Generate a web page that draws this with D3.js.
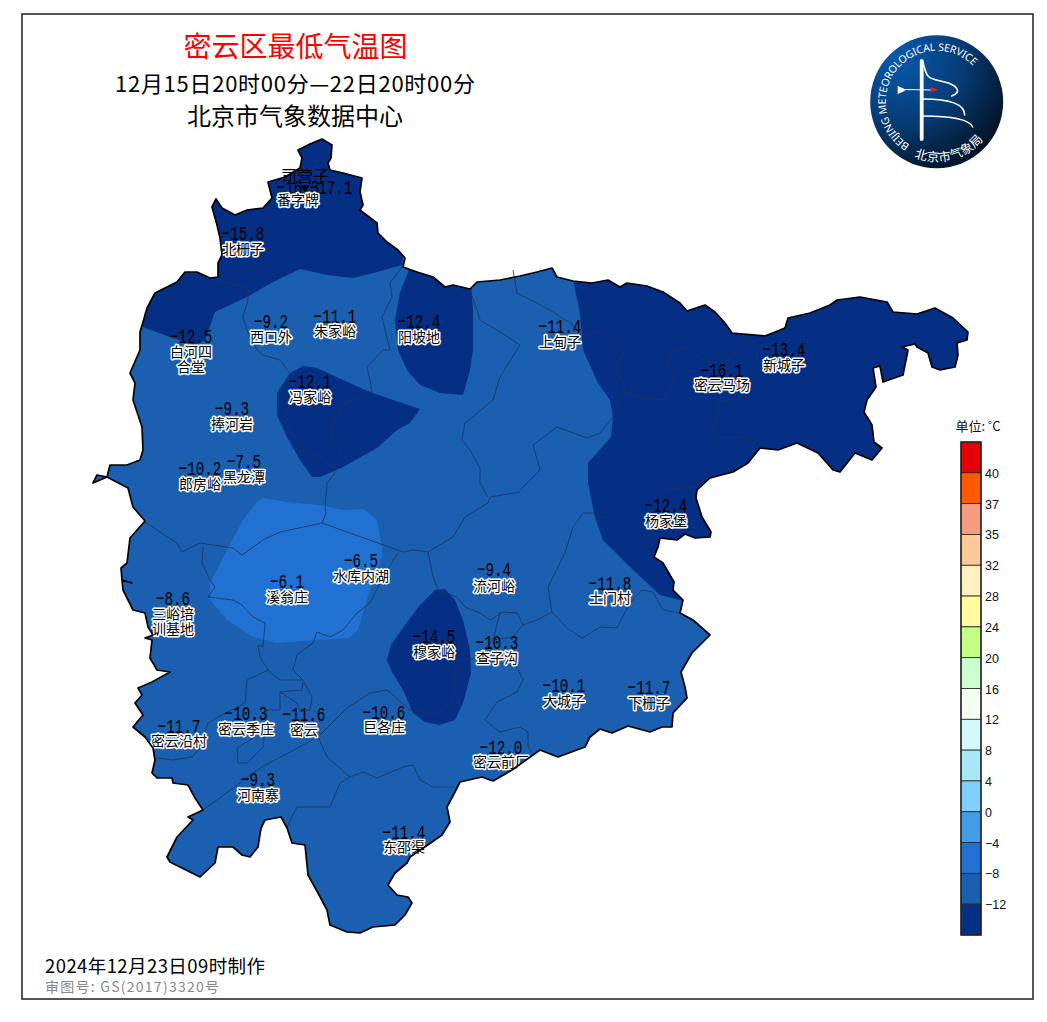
<!DOCTYPE html>
<html>
<head>
<meta charset="utf-8">
<script src="https://cdn.jsdelivr.net/npm/d3@7"></script>
<style>
html, body { margin: 0; padding: 0; background: #fff; }
svg { display: block; }
text { font-family: "Noto Sans CJK SC", sans-serif; }
</style>
</head>
<body>
<svg id="chart" width="1047" height="1022"></svg>
<script>
// map geometry, in map units of the sheet
const cityOutline = [[298,150],[310,144],[322,139],[332,145],[331,158],[328,163],[330,170],[343,173],[362,178],[360,192],[363,205],[360,210],[377,223],[378,233],[387,242],[398,250],[405,258],[403,267],[417,272],[433,277],[445,287],[453,285],[470,289],[477,282],[500,280],[520,276],[537,272],[552,268],[557,277],[573,281],[592,283],[608,280],[620,287],[627,283],[647,286],[663,292],[680,303],[687,311],[705,305],[715,312],[725,323],[732,333],[765,336],[785,328],[788,318],[810,313],[830,305],[837,300],[860,297],[887,302],[893,312],[917,314],[935,308],[953,318],[968,332],[967,340],[957,343],[958,355],[955,367],[940,370],[932,367],[928,353],[917,347],[915,344],[902,347],[908,350],[903,375],[883,382],[880,366],[873,368],[876,387],[867,400],[864,412],[872,425],[874,442],[882,448],[872,460],[855,453],[840,472],[833,470],[818,453],[797,443],[778,450],[760,448],[748,463],[733,472],[710,478],[697,490],[696,498],[702,517],[711,532],[710,537],[695,538],[685,534],[677,540],[660,538],[658,547],[654,557],[663,563],[674,582],[673,590],[683,600],[680,613],[693,620],[710,635],[692,653],[681,672],[685,687],[687,698],[673,713],[672,727],[662,727],[650,732],[628,726],[612,733],[600,729],[590,737],[585,747],[558,757],[540,750],[512,770],[493,781],[482,777],[460,782],[455,792],[447,807],[450,822],[442,835],[432,842],[410,857],[407,863],[395,873],[388,885],[397,895],[408,897],[412,903],[405,915],[395,925],[373,927],[360,933],[347,932],[330,925],[327,910],[318,893],[308,875],[305,845],[292,843],[287,828],[281,817],[265,820],[261,828],[258,847],[250,857],[242,855],[233,847],[218,847],[215,863],[200,877],[192,873],[170,862],[167,857],[177,837],[193,820],[188,817],[203,810],[195,798],[188,785],[173,783],[172,778],[157,778],[152,773],[155,760],[153,748],[145,737],[133,727],[143,715],[135,703],[142,695],[138,688],[152,682],[170,672],[157,670],[150,658],[152,640],[145,638],[153,635],[148,627],[145,613],[133,610],[123,590],[122,580],[132,583],[122,580],[121,568],[127,563],[130,538],[145,521],[133,507],[128,488],[107,477],[93,483],[97,475],[107,477],[110,465],[127,465],[140,460],[143,450],[142,427],[133,400],[135,383],[130,373],[140,350],[140,332],[143,322],[147,308],[155,293],[177,282],[185,272],[197,272],[210,278],[218,277],[218,263],[222,255],[220,238],[217,225],[212,207],[216,199],[222,208],[235,215],[247,210],[263,208],[272,198],[268,182],[285,177],[300,168],[302,158]];

const townLines = [
  [[145,522],[157,530],[177,543],[182,552],[200,543],[233,548],[242,555],[263,540],[280,532],[322,523],[403,552],[413,550],[428,552],[453,537],[465,517],[488,503],[490,497],[520,492]],
  [[322,523],[326,513],[325,507],[327,483],[335,473],[333,463],[342,453],[333,437],[330,428],[345,403],[372,392],[370,380],[367,367],[383,350],[390,350],[382,317],[392,297],[390,283],[402,267]],
  [[287,403],[285,420],[297,443],[307,453],[320,457],[333,467]],
  [[488,497],[480,483],[480,468],[470,450],[462,440],[465,423],[493,400],[500,377],[520,345],[500,332],[480,320],[477,310],[470,290]],
  [[428,552],[433,577],[438,590],[457,597],[465,607],[480,613],[490,620],[503,612],[517,613],[523,625],[537,620],[552,612],[567,628],[582,638],[600,627],[617,628],[630,603],[642,590],[653,592],[663,610],[680,613]],
  [[552,612],[548,587],[565,553],[573,527],[583,513],[593,513],[605,518],[623,507],[637,517],[663,490],[695,487]],
  [[513,270],[517,293],[537,303],[553,312],[570,323],[583,335],[598,332],[625,350],[615,368],[623,383],[625,393],[617,403],[613,417],[600,433],[587,438],[557,427],[533,445],[540,470],[520,490]],
  [[625,393],[643,398],[665,400],[675,375],[668,367],[670,352],[685,347],[703,360],[727,363],[747,335]],
  [[727,363],[722,385],[742,398],[718,402],[717,420],[713,427],[718,438],[747,437],[758,448]],
  [[217,280],[248,288],[248,300],[243,317],[247,330],[257,350],[263,355],[280,360],[293,377],[287,403]],
  [[210,580],[202,563],[203,547]],
  [[210,580],[215,587],[208,597],[233,600],[242,605],[253,617],[265,623],[263,647],[258,645],[260,657],[268,670],[280,680],[303,680]],
  [[398,553],[383,577],[370,603],[357,613],[343,630],[330,637],[317,632],[313,643],[297,655],[293,670],[303,680],[312,697],[310,710],[300,710],[297,703],[280,692],[302,690],[303,682]],
  [[280,692],[280,710],[267,710],[263,747],[247,763],[238,763],[237,748],[253,738]],
  [[268,670],[247,680],[245,703],[218,717],[208,723],[200,748],[192,757],[173,760],[157,758]],
  [[203,810],[262,767],[318,737],[347,708],[370,693],[387,690],[410,710],[437,715],[453,700],[455,677],[455,663],[458,660],[477,658],[517,667],[523,680],[517,692],[497,702],[485,720],[500,732],[520,727],[528,732],[528,747],[532,753]],
  [[318,737],[327,757],[350,777],[340,783],[330,807],[297,807],[287,827]],
  [[350,777],[363,772],[377,778],[403,767],[413,765],[420,780],[433,787],[455,787]],
  [[477,658],[493,640],[500,612]],
  [[493,640],[513,637],[523,625]]
];

// temperature bands
const coldNorth = [[100,320],[140,326],[170,337],[195,345],[205,340],[215,312],[247,297],[273,282],[300,269],[327,275],[353,278],[377,272],[402,265],[420,100],[100,100]];
const coldYangpodi = [[412,262],[400,293],[395,320],[398,350],[407,370],[420,385],[440,393],[463,395],[470,370],[473,350],[473,310],[470,270]];
const coldFengjiayu = [[303,366],[290,373],[277,393],[277,415],[287,437],[300,460],[312,477],[320,477],[343,467],[377,448],[397,430],[410,423],[420,409],[393,400],[370,392],[343,380],[317,368]];
const coldMujiayu = [[435,590],[445,589],[455,600],[463,620],[470,650],[471,673],[463,703],[455,720],[440,725],[425,722],[413,713],[403,690],[392,672],[387,660],[391,645],[405,625],[420,605]];
const coldEast = [[570,260],[573,280],[580,313],[583,350],[598,383],[610,400],[613,417],[611,437],[588,463],[588,483],[595,517],[603,540],[630,567],[660,595],[684,601],[1000,601],[1000,260]];
const mildXiweng = [[257,502],[263,498],[287,502],[320,505],[343,510],[363,509],[377,520],[382,547],[382,557],[370,590],[358,630],[350,638],[317,640],[277,643],[253,637],[227,620],[210,600],[210,583],[227,550],[243,520]];

const stationNames = ["番字牌","司营子","北栅子","白河四\n合堂","西口外","朱家峪","阳坡地","上甸子","密云马场","新城子","冯家峪","捧河岩","郎房峪","黑龙潭","杨家堡","水库内湖","溪翁庄","流河峪","土门村","三峪培\n训基地","穆家峪","查子沟","大城子","下栅子","密云季庄","密云","巨各庄","密云沿村","密云前厂","河南寨","东邵渠"];
const stationValues = [-16.3,-17.1,-15.8,-12.5,-9.2,-11.1,-12.4,-11.4,-16.1,-13.4,-12.1,-9.3,-10.2,-7.5,-12.4,-6.5,-6.1,-9.4,-11.8,-8.6,-14.5,-10.3,-10.1,-11.7,-10.3,-11.6,-10.6,-11.7,-12.0,-9.3,-11.4];
const stationX = [298,305,243,191,271,335,419,560,722,784,310,232,200,244,666,361,287,494,610,173,434,497,564,649,246,304,384,179,501,258,404];
const stationY = [200,177,249,352,337,331,337,342,385,365,397,424,484,477,521,576,597,586,598,614,652,658,701,703,729,730,727,741,762,795,847];
const valueX = [298,331,243,191,271,335,419,560,722,784,310,232,200,244,666,361,287,494,610,173,434,497,564,649,246,304,384,179,501,258,404];
const valueY = [187,187,233,336,321,316,321,326,370,349,381,408,468,461,505,560,581,569,583,598,636,642,685,687,713,714,712,726,747,779,832];

const legendLabels = ["40","37","35","32","28","24","20","16","12","8","4","0","−4","−8","−12"];
const legendColors = ["#e60008","#ff5a00","#f59c80","#ffc997","#fff0c0","#fffb9c","#c2ff84","#ccffd0","#f3fff0","#d4f9fb","#a9e6f8","#80d0ff","#429ce6","#2171d2","#1a5fb0","#052f85"];

const titleMain = "密云区最低气温图";
const titleTime = "12月15日20时00分—22日20时00分";
const titleSource = "北京市气象数据中心";
const madeOn = "2024年12月23日09时制作";
const mapReview = "审图号: GS(2017)3320号";

const svg = d3.select("#chart");
const mapPath = d3.geoPath(d3.geoIdentity());
const poly = ring => ({ type: "Polygon", coordinates: [[...ring, ring[0]]] });

svg.append("rect").attr("x", 22).attr("y", 14).attr("width", 1011).attr("height", 985)
  .attr("fill", "#fff").attr("stroke", "#2b2b2b").attr("stroke-width", 1.6);

// temperature fill, clipped to the district
svg.append("clipPath").attr("id", "district").append("path").attr("d", mapPath(poly(cityOutline)));
const fills = svg.append("g").attr("clip-path", "url(#district)");
fills.append("path").attr("d", mapPath(poly(cityOutline))).attr("fill", legendColors[14]);
fills.append("path").attr("d", mapPath(poly(mildXiweng))).attr("fill", legendColors[13]);
[coldNorth, coldYangpodi, coldFengjiayu, coldMujiayu, coldEast].forEach(r => {
  fills.append("path").attr("d", mapPath(poly(r))).attr("fill", legendColors[15]);
});

svg.append("g").selectAll("path").data(townLines).join("path")
  .attr("d", l => mapPath({ type: "LineString", coordinates: l }))
  .attr("fill", "none").attr("stroke", "#1b3560").attr("stroke-width", 0.8);

// values and station names
const idx = d3.range(stationNames.length);
svg.append("g").selectAll("text").data(idx).join("text")
  .attr("transform", i => `translate(${valueX[i]},${valueY[i] + 7}) scale(0.68,1)`)
  .attr("text-anchor", "middle")
  .style("font-family", "'Liberation Mono', monospace")
  .style("font-size", "21px")
  .attr("fill", "#000")
  .text(i => d3.format(".1f")(stationValues[i]).replace("-", "−"));

const names = svg.append("g").selectAll("g").data(idx).join("g");
names.each(function (i) {
  const g = d3.select(this);
  stationNames[i].split("\n").forEach((line, k) => {
    const plain = stationNames[i] === "司营子";
    g.append("text")
      .attr("x", stationX[i]).attr("y", stationY[i] + k * 15 + 5)
      .attr("text-anchor", "middle")
      .style("font-size", plain ? "16px" : "14px")
      .style("paint-order", "stroke")
      .attr("fill", "#000")
      .attr("stroke", plain ? "none" : "#fff")
      .attr("stroke-width", 3).attr("stroke-linejoin", "round")
      .text(line);
  });
});
svg.append("path").attr("d", d3.symbol(d3.symbolTriangle, 30)())
  .attr("transform", `translate(${stationX[1]},${stationY[1] + 11}) rotate(180)`).attr("fill", "#000");

svg.append("path").attr("d", mapPath(poly(cityOutline)))
  .attr("fill", "none").attr("stroke", "#000").attr("stroke-width", 1.7).attr("stroke-linejoin", "round");

// titles
svg.append("text").attr("x", 295.5).attr("y", 57).attr("text-anchor", "middle")
  .attr("fill", "#ff0000").style("font-size", "28px").text(titleMain);
svg.append("text").attr("x", 295).attr("y", 92).attr("text-anchor", "middle")
  .attr("textLength", 360).attr("fill", "#000").style("font-size", "22px").text(titleTime);
svg.append("text").attr("x", 295).attr("y", 125).attr("text-anchor", "middle")
  .attr("fill", "#000").style("font-size", "24px").text(titleSource);
svg.append("text").attr("x", 45).attr("y", 973).attr("textLength", 220)
  .attr("fill", "#000").style("font-size", "18.5px").text(madeOn);
svg.append("text").attr("x", 45).attr("y", 992).attr("textLength", 174)
  .attr("fill", "#888").style("font-size", "14px").text(mapReview);

// colour bar
const legendY = d3.scaleBand().domain(d3.range(legendColors.length)).range([442, 935]);
const legend = svg.append("g");
legend.selectAll("rect").data(legendColors).join("rect")
  .attr("x", 961).attr("width", 20)
  .attr("y", (d, i) => legendY(i)).attr("height", legendY.bandwidth())
  .attr("fill", d => d).attr("stroke", "#222").attr("stroke-width", 0.8);
legend.append("rect").attr("x", 961).attr("y", 442).attr("width", 20).attr("height", 493)
  .attr("fill", "none").attr("stroke", "#222").attr("stroke-width", 1.4);
legend.selectAll("text").data(legendLabels).join("text")
  .attr("x", 985).attr("y", (d, i) => legendY(i + 1) + 5)
  .style("font-family", "'Liberation Sans', sans-serif").style("font-size", "12.5px")
  .attr("fill", "#111").text(d => d);
svg.append("text").attr("x", 978).attr("y", 431).attr("text-anchor", "middle")
  .style("font-size", "13px").attr("fill", "#111").text("单位: ˚C");

// bureau badge
const cx = 936.7, cy = 101.7, badgeR = 66.5;
const defs = svg.append("defs");
const grad = defs.append("radialGradient").attr("id", "badge").attr("cx", "22%").attr("cy", "18%").attr("r", "100%");
grad.append("stop").attr("offset", "0").attr("stop-color", "#075aad");
grad.append("stop").attr("offset", "0.5").attr("stop-color", "#063a72");
grad.append("stop").attr("offset", "1").attr("stop-color", "#020a14");
const arcPath = (r, a0, a1, ccw) => {
  const p = d3.path();
  const rad = a => a * Math.PI / 180;
  p.arc(cx, cy, r, rad(a0), rad(a1), ccw);
  return p.toString();
};
defs.append("path").attr("id", "arcTop").attr("d", arcPath(51, 122, 316, false));
defs.append("path").attr("id", "arcBottom").attr("d", arcPath(60, 112, 38, true));
svg.append("circle").attr("cx", cx).attr("cy", cy).attr("r", badgeR).attr("fill", "url(#badge)");
const badge = svg.append("g").attr("fill", "none").attr("stroke", "#fff").attr("stroke-linecap", "round");
badge.append("line").attr("x1", cx - 15).attr("x2", cx - 15).attr("y1", 61).attr("y2", 139).attr("stroke-width", 3.8);
badge.append("path").attr("stroke-width", 1.6).attr("d", `M${cx - 14},61 C${cx - 10},80 ${cx - 8},78 ${cx + 8},82 C${cx + 20},85 ${cx + 26},92 ${cx + 15},96`);
badge.append("path").attr("stroke-width", 1.5).attr("d", `M${cx - 14},99 C${cx + 8},99 ${cx + 28},102 ${cx + 28},115`);
badge.append("path").attr("stroke-width", 1.5).attr("d", `M${cx - 14},116 C${cx + 8},116 ${cx + 32},118 ${cx + 36},127`);
badge.append("line").attr("stroke-width", 1).attr("x1", cx - 34).attr("x2", cx - 4).attr("y1", 89.5).attr("y2", 90);
badge.append("path").attr("stroke", "none").attr("fill", "#fff").attr("d", `M${cx - 39},86 L${cx - 32},89 L${cx - 32},91 L${cx - 39},94 Z`);
svg.append("path").attr("fill", "#e3202a").attr("d", `M${cx - 6},87 L${cx + 2},90 L${cx - 6},92 Z`);
svg.append("text").attr("fill", "#fff").style("font-family", "'Noto Sans', sans-serif").style("font-size", "10.5px")
  .append("textPath").attr("href", "#arcTop").attr("textLength", 172).text("BEIJING METEOROLOGICAL SERVICE");
svg.append("text").attr("fill", "#fff").style("font-size", "12.5px")
  .append("textPath").attr("href", "#arcBottom").attr("textLength", 76).text("北京市气象局");
</script>
</body>
</html>
